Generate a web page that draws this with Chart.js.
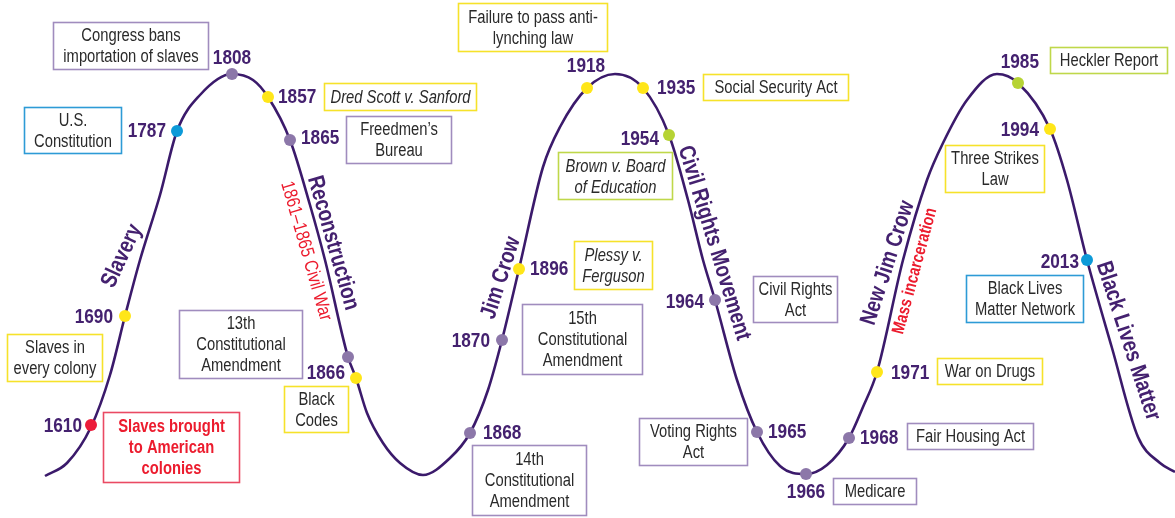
<!DOCTYPE html>
<html>
<head>
<meta charset="utf-8">
<script src="https://cdn.jsdelivr.net/npm/chart.js@4.4.1/dist/chart.umd.min.js"></script>
<style>
  html, body { margin: 0; padding: 0; background: #fff; }
  #wrap { width: 1175px; height: 518px; }
</style>
</head>
<body>
<div id="wrap"><canvas id="chart"></canvas></div>
<script>
// Wave (x along the timeline, y = depth from the top)
const curveX = [45, 67, 91, 110, 125, 140, 160, 177, 200, 232, 253, 268, 290, 310, 325, 348, 356, 367, 383, 400,
  423, 450, 470, 488, 502, 519, 543, 560, 587, 615, 643, 669, 688, 703, 715, 737, 757, 780, 806, 827,
  849, 863, 877, 903, 927, 943, 967, 997, 1018, 1050, 1067, 1087, 1112, 1138, 1160, 1175];
const curveY = [476, 463, 427, 375, 316, 260, 195, 131, 95, 74, 80, 97, 140, 205, 260, 357, 378, 413, 443, 463,
  475, 458, 433, 390, 340, 269, 167, 127, 88, 74, 88, 135, 200, 260, 300, 380, 432, 466, 474, 465,
  438, 407, 372, 260, 180, 143, 100, 74, 83, 129, 180, 260, 348, 437, 463, 472];

// Events on the wave
const eventYears = ["1610", "1690", "1787", "1808", "1857", "1865", "", "1866", "1868", "1870", "1896",
  "1918", "1935", "1954", "1964", "1965", "1966", "1968", "1971", "1985", "1994", "2013"];
const eventX = [91, 125, 177, 232, 268, 290, 348, 356, 470, 502, 519, 587, 643, 669, 715, 757, 806, 849, 877, 1018, 1050, 1087];
const eventY = [425, 316, 131, 74, 97, 140, 357, 378, 433, 340, 269, 88, 88, 135, 300, 432, 474, 438, 372, 83, 129, 260];
const eventKind = ["red", "yellow", "blue", "purple", "yellow", "purple", "purple", "yellow", "purple", "purple", "yellow",
  "yellow", "yellow", "green", "purple", "purple", "purple", "purple", "yellow", "green", "yellow", "blue"];
const eventText = [
  "Slaves brought\nto American\ncolonies", "Slaves in\nevery colony", "U.S.\nConstitution",
  "Congress bans\nimportation of slaves", "Dred Scott v. Sanford", "Freedmen\u2019s\nBureau",
  "13th\nConstitutional\nAmendment", "Black\nCodes", "14th\nConstitutional\nAmendment",
  "15th\nConstitutional\nAmendment", "Plessy v.\nFerguson", "Failure to pass anti-\nlynching law",
  "Social Security Act", "Brown v. Board\nof Education", "Civil Rights\nAct", "Voting Rights\nAct",
  "Medicare", "Fair Housing Act", "War on Drugs", "Heckler Report", "Three Strikes\nLaw",
  "Black Lives\nMatter Network"];
const italicEvents = ["1857", "1896", "1954"];

// Eras written along the wave
const eraNames = ["Slavery", "Reconstruction", "1861\u20131865 Civil War", "Jim Crow", "Civil Rights Movement",
  "New Jim Crow", "Mass incarceration", "Black Lives Matter"];
const eraX = [122, 333, 306, 501, 714, 888, 915, 1128];
const eraY = [256, 243, 251, 278, 243, 263, 271, 341];

// ---- layout (data units), kept apart from the values ----
const eraAngle = [-65, 74, 74, -72, 73, -72, -75, 72];
const eraRed = [false, false, true, false, false, false, true, false];
const yearPos = [[82, 426, "right"], [113, 317, "right"], [166, 131, "right"], [232, 58, "center"], [278, 97, "left"],
  [301, 138, "left"], null, [345, 373, "right"], [483, 433, "left"], [490, 341, "right"], [530, 269, "left"],
  [586, 66, "center"], [657, 88, "left"], [659, 139, "right"], [704, 302, "right"], [768, 432, "left"],
  [806, 492, "center"], [860, 438, "left"], [891, 373, "left"], [1039, 62, "right"], [1039, 130, "right"],
  [1079, 262, "right"]];
const boxRects = [[103, 412, 239, 482], [7, 334, 102, 381], [24, 107, 121, 153], [53, 22, 208, 69], [324, 83, 476, 110],
  [346, 116, 451, 163], [179, 310, 302, 378], [284, 386, 348, 432], [472, 445, 586, 515], [522, 304, 642, 374],
  [574, 241, 652, 289], [458, 3, 607, 51], [703, 74, 848, 100], [558, 152, 672, 199], [753, 276, 837, 322],
  [639, 418, 747, 465], [833, 478, 916, 504], [907, 423, 1033, 449], [937, 358, 1042, 384], [1050, 47, 1167, 73],
  [945, 145, 1044, 192], [966, 275, 1083, 322]];

const DOT_COLORS = { red: "#ec1c3a", yellow: "#ffe619", blue: "#0d9ad8", purple: "#8c77a9", green: "#b6d334" };
const BOX_COLORS = { red: "#ea4a63", yellow: "#f6e22a", blue: "#2d9bd6", purple: "#a08cbe", green: "#bfd84a" };
const CURVE = "#3b1a6b";
const YEAR = "#44216f";
const RED = "#ec1c2e";
const INK = "#2a2a2a";
const FONT = '"Liberation Sans", Arial, sans-serif';
const NARROW = 0.82;

function drawText(ctx, text, px, py, o) {
  ctx.save();
  ctx.translate(px, py);
  if (o.angle) ctx.rotate(o.angle * Math.PI / 180);
  ctx.scale(NARROW, 1);
  ctx.font = `${o.italic ? "italic " : ""}${o.bold ? "bold " : ""}${o.size}px ${FONT}`;
  ctx.fillStyle = o.color;
  ctx.textAlign = o.align || "center";
  ctx.textBaseline = "middle";
  ctx.fillText(text, 0, 0);
  ctx.restore();
}

const annotations = {
  id: "annotations",
  afterDraw(chart) {
    const { ctx } = chart;
    const sx = chart.scales.x, sy = chart.scales.y;

    // boxes with descriptions
    eventText.forEach((txt, i) => {
      const [x1, y1, x2, y2] = boxRects[i];
      const l = Math.round(sx.getPixelForValue(x1)) + 0.5;
      const r = Math.round(sx.getPixelForValue(x2)) + 0.5;
      const t = Math.round(sy.getPixelForValue(y1)) + 0.5;
      const b = Math.round(sy.getPixelForValue(y2)) + 0.5;
      ctx.save();
      ctx.strokeStyle = BOX_COLORS[eventKind[i]];
      ctx.lineWidth = 1.6;
      ctx.strokeRect(l, t, r - l, b - t);
      ctx.restore();
      const lines = txt.split("\n");
      const lh = 21;
      const cx = (l + r) / 2, cy = (t + b) / 2 + 1;
      const isRed = eventKind[i] === "red";
      lines.forEach((line, k) => {
        drawText(ctx, line, cx, cy + (k - (lines.length - 1) / 2) * lh, {
          size: 18, bold: isRed, italic: italicEvents.includes(eventYears[i]),
          color: isRed ? RED : INK
        });
      });
    });

    // year labels
    eventYears.forEach((yr, i) => {
      const p = yearPos[i];
      if (!yr || !p) return;
      drawText(ctx, yr, sx.getPixelForValue(p[0]), sy.getPixelForValue(p[1]), {
        size: 21, bold: true, color: YEAR, align: p[2]
      });
    });

    // era names along the wave
    eraNames.forEach((name, i) => {
      const red = eraRed[i];
      drawText(ctx, name, sx.getPixelForValue(eraX[i]), sy.getPixelForValue(eraY[i]), {
        size: red ? (i === 2 ? 19 : 17.5) : 23, bold: !red || i === 6,
        color: red ? RED : YEAR, angle: eraAngle[i]
      });
    });
  }
};

new Chart(document.getElementById("chart"), {
  data: {
    datasets: [
      {
        type: "scatter",
        order: 0,
        data: eventX.map((x, i) => ({ x, y: eventY[i] })),
        pointBackgroundColor: eventKind.map(k => DOT_COLORS[k]),
        pointBorderWidth: 0,
        pointRadius: 6
      },
      {
        type: "line",
        order: 1,
        data: curveX.map((x, i) => ({ x, y: curveY[i] })),
        borderColor: CURVE,
        borderWidth: 2.6,
        pointRadius: 0,
        fill: false,
        cubicInterpolationMode: "monotone"
      }
    ]
  },
  options: {
    responsive: true,
    maintainAspectRatio: false,
    animation: false,
    events: [],
    layout: { padding: 0, autoPadding: false },
    plugins: { legend: { display: false }, tooltip: { enabled: false } },
    scales: {
      x: { type: "linear", min: 0, max: 1175, display: false },
      y: { type: "linear", min: 0, max: 518, reverse: true, display: false }
    }
  },
  plugins: [annotations]
});
</script>
</body>
</html>
